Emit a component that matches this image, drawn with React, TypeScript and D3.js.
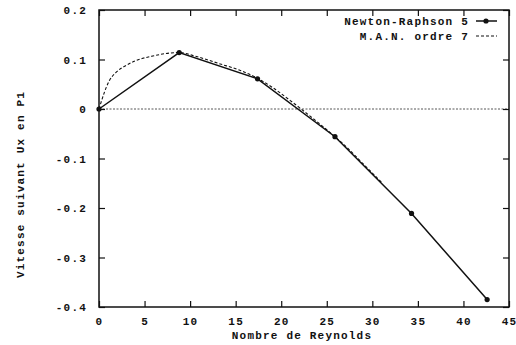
import React, { useEffect, useRef } from 'react';
import * as d3 from 'd3';

// Newton-Raphson, ordre 5 (points calculés)
const nrRe = [0, 8.8, 17.4, 25.9, 34.3, 42.6];
const nrUx = [0, 0.114, 0.061, -0.056, -0.211, -0.385];

// M.A.N. ordre 7 (courbe continue)
const manRe = [0, 0.2, 0.58, 1.13, 1.87, 2.97, 4.07, 5.9, 7.3, 8.8, 10.7, 13.3, 15.5, 17.1, 19, 21, 23, 25, 27, 29, 31];
const manUx = [0, 0.012, 0.033, 0.057, 0.074, 0.088, 0.098, 0.107, 0.112, 0.114, 0.106, 0.091, 0.078, 0.065, 0.044, 0.017, -0.012, -0.042, -0.074, -0.111, -0.148];

const xTicks = [0, 5, 10, 15, 20, 25, 30, 35, 40, 45];
const yTicks = [-0.4, -0.3, -0.2, -0.1, 0, 0.1, 0.2];

const legendLabels = ['Newton-Raphson 5', 'M.A.N. ordre 7'];

const W = 516;
const H = 345;
const FONT = '"Liberation Mono", "DejaVu Sans Mono", monospace';

const App = () => {
  const ref = useRef<SVGSVGElement | null | any>(null);

  useEffect(() => {
    if (!ref.current) return;
    const svg = d3.select(ref.current);
    svg.selectAll('*').remove();

    const left = 99, right = 509, top = 10, bottom = 307;
    const x = d3.scaleLinear().domain([0, 45]).range([left, right]);
    const y = d3.scaleLinear().domain([-0.4, 0.2]).range([bottom, top]);
    const fmtY = (d) => (d === 0 ? '0' : d.toFixed(1));
    const ink = '#111';

    const txt = (sel) =>
      sel.attr('fill', ink)
        .style('font-family', FONT)
        .style('font-size', '11px')
        .style('font-weight', 'bold')
        .style('letter-spacing', '1.2px');

    // zero line (dotted)
    svg.append('line')
      .attr('x1', left).attr('x2', right)
      .attr('y1', y(0)).attr('y2', y(0))
      .attr('stroke', '#444').attr('stroke-width', 0.9)
      .attr('stroke-dasharray', '2,1.5');

    const styleAxis = (g) => {
      g.select('.domain').remove();
      g.selectAll('.tick line').attr('stroke', ink).attr('stroke-width', 1.2);
      g.selectAll('.tick text').call(txt);
    };

    svg.append('g').attr('transform', `translate(0,${bottom})`)
      .call(d3.axisBottom(x).tickValues(xTicks).tickSize(-6).tickPadding(10).tickFormat((d) => String(d)))
      .call(styleAxis);
    svg.append('g').attr('transform', `translate(0,${top})`)
      .call(d3.axisTop(x).tickValues(xTicks).tickSize(-6).tickFormat(() => ''))
      .call(styleAxis);
    svg.append('g').attr('transform', `translate(${left},0)`)
      .call(d3.axisLeft(y).tickValues(yTicks).tickSize(-6).tickPadding(12).tickFormat(fmtY))
      .call(styleAxis);
    svg.append('g').attr('transform', `translate(${right},0)`)
      .call(d3.axisRight(y).tickValues(yTicks).tickSize(-6).tickFormat(() => ''))
      .call(styleAxis);

    // frame
    svg.append('rect')
      .attr('x', left).attr('y', top)
      .attr('width', right - left).attr('height', bottom - top)
      .attr('fill', 'none').attr('stroke', ink).attr('stroke-width', 1.5);

    // M.A.N. curve
    const manLine = d3.line<number>()
      .x((d, i) => x(manRe[i]))
      .y((d) => y(d))
      .curve(d3.curveMonotoneX);
    svg.append('path')
      .attr('d', manLine(manUx))
      .attr('fill', 'none').attr('stroke', ink).attr('stroke-width', 1.1)
      .attr('stroke-dasharray', '3,2');

    // Newton-Raphson
    const nrLine = d3.line<number>().x((d, i) => x(nrRe[i])).y((d) => y(d));
    svg.append('path')
      .attr('d', nrLine(nrUx))
      .attr('fill', 'none').attr('stroke', ink).attr('stroke-width', 1.5);
    svg.selectAll('circle.nr')
      .data(nrUx)
      .enter()
      .append('circle')
      .attr('class', 'nr')
      .attr('cx', (d, i) => x(nrRe[i]))
      .attr('cy', (d) => y(d))
      .attr('r', 2.6)
      .attr('fill', ink);

    // legend
    const lg = svg.append('g');
    legendLabels.forEach((lab, i) => {
      const ly = 21 + i * 15;
      lg.append('text')
        .attr('x', 469).attr('y', ly + 4)
        .attr('text-anchor', 'end')
        .call(txt)
        .text(lab);
      lg.append('line')
        .attr('x1', 476).attr('x2', 497)
        .attr('y1', ly).attr('y2', ly)
        .attr('stroke', ink)
        .attr('stroke-width', i === 0 ? 1.5 : 1.1)
        .attr('stroke-dasharray', i === 0 ? null : '3,2');
      if (i === 0) {
        lg.append('circle').attr('cx', 486).attr('cy', ly).attr('r', 2.6).attr('fill', ink);
      }
    });

    // axis titles
    svg.append('text')
      .attr('x', (left + right) / 2 - 2).attr('y', 339)
      .attr('text-anchor', 'middle')
      .call(txt)
      .text('Nombre de Reynolds');
    svg.append('text')
      .attr('transform', `translate(24,${(top + bottom) / 2 + 26}) rotate(-90)`)
      .attr('text-anchor', 'middle')
      .call(txt)
      .text('Vitesse suivant Ux en P1');
  }, []);

  return (
    <svg
      ref={ref}
      width={W}
      height={H}
      style={{ position: 'absolute', left: 0, top: 0, background: '#fff' }}
    />
  );
};

export default App;
